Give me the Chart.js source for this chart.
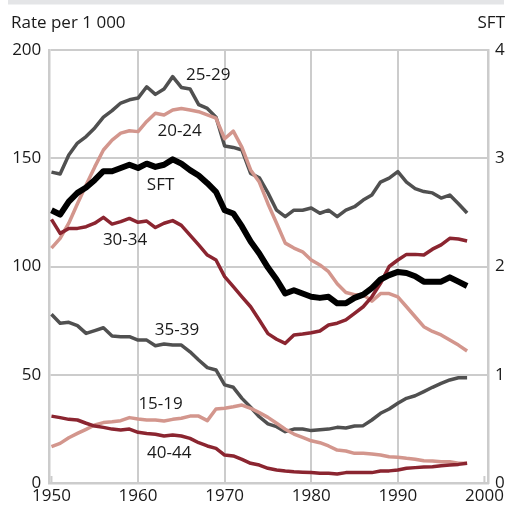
<!DOCTYPE html>
<html>
<head>
<meta charset="utf-8">
<script src="https://cdn.jsdelivr.net/npm/chart.js@4"></script>
<style>
  body { margin: 0; background: #fff; }
  canvas { display: block; }
</style>
</head>
<body>
<canvas id="chart" width="507" height="509"></canvas>
<script>
const years = [1950, 1951, 1952, 1953, 1954, 1955, 1956, 1957, 1958, 1959,
  1960, 1961, 1962, 1963, 1964, 1965, 1966, 1967, 1968, 1969,
  1970, 1971, 1972, 1973, 1974, 1975, 1976, 1977, 1978, 1979,
  1980, 1981, 1982, 1983, 1984, 1985, 1986, 1987, 1988, 1989,
  1990, 1991, 1992, 1993, 1994, 1995, 1996, 1997, 1998];

// births per 1 000 women, by age group
const age1519 = [16.8, 18.3, 20.9, 22.9, 24.8, 26.8, 27.9, 28.3, 28.8, 30.2,
  29.6, 29.1, 29.1, 28.6, 29.4, 29.9, 30.9, 30.9, 28.8, 34.2,
  34.5, 35.2, 36, 34.5, 32.5, 30.3, 27.6, 24.8, 22.6, 21.1,
  19.5, 18.6, 17.1, 15.2, 14.8, 13.7, 13.7, 13.4, 12.9, 12.1,
  11.9, 11.4, 11, 10.3, 10.2, 9.8, 9.8, 9.1, 9.1];
const age2024 = [108.5, 113, 120, 129, 137.6, 146, 153.8, 158.4, 161.6, 162.7,
  162.3, 167, 170.8, 170, 172.3, 173, 172.3, 171.5, 170, 168.5,
  159, 162.5, 155, 144.6, 139, 129, 120, 110.8, 108.5, 106.8,
  103, 100.7, 97.6, 92, 88, 87, 87, 84, 87.5, 87.5,
  86, 81.4, 76.8, 72.2, 70, 68.4, 66, 63.7, 61];
const age2529 = [143.6, 142.7, 151.5, 157, 160, 164, 169, 172, 175.5, 177,
  177.8, 183, 179.5, 182, 187.7, 182.7, 182, 174.8, 173, 169,
  155.7, 155, 153.8, 143, 141, 134, 126, 123, 126, 126,
  127, 124.6, 126, 123, 126, 127.6, 130.7, 133, 139, 140.8,
  143.8, 139, 136, 134.6, 134, 131.6, 133, 129, 124.7];
const age3034 = [121.8, 115.3, 117.6, 117.6, 118.4, 120, 122.7, 119.6, 120.7, 122.2,
  120.4, 121, 118, 120, 121.2, 119, 114.5, 110, 105.3, 103,
  95.3, 90.7, 86, 81.4, 75.3, 69, 66.4, 64.5, 68.4, 68.8,
  69.4, 70.2, 73, 73.8, 75.3, 78.4, 81.4, 86, 92.2, 100,
  103, 105.6, 105.6, 105.3, 108, 110, 113, 112.7, 111.8];
const age3539 = [77.9, 73.8, 74.2, 72.7, 69.1, 70.4, 71.7, 67.9, 67.6, 67.6,
  66, 66, 63.4, 64.2, 63.7, 63.7, 60.6, 56.8, 53.3, 52.2,
  45.3, 44.2, 39.1, 35, 30.6, 27.3, 26, 23.7, 24.9, 24.9,
  24.2, 24.6, 24.9, 25.7, 25.4, 26.3, 26.5, 29.1, 32.2, 34.2,
  36.8, 39.1, 40.3, 42.2, 44.2, 46, 47.6, 48.6, 48.6];
const age4044 = [30.9, 30.2, 29.4, 29.1, 27.6, 26.3, 25.7, 24.9, 24.5, 24.9,
  23.4, 22.9, 22.5, 21.7, 22.2, 21.7, 20.6, 18.6, 17.1, 16,
  12.9, 12.5, 10.9, 9.1, 8.3, 6.8, 6, 5.5, 5.2, 5,
  4.8, 4.5, 4.5, 4.2, 4.8, 4.8, 4.8, 4.8, 5.5, 5.6,
  6, 6.8, 7.1, 7.4, 7.5, 8, 8.3, 8.6, 9.1];
// total fertility rate (right axis)
const sft = [2.52, 2.48, 2.60, 2.68, 2.73, 2.80, 2.88, 2.88, 2.91, 2.94,
  2.91, 2.95, 2.92, 2.94, 2.99, 2.95, 2.89, 2.84, 2.77, 2.69,
  2.52, 2.49, 2.37, 2.23, 2.12, 1.99, 1.88, 1.75, 1.78, 1.75,
  1.72, 1.71, 1.72, 1.66, 1.66, 1.71, 1.74, 1.80, 1.88, 1.92,
  1.95, 1.94, 1.91, 1.86, 1.86, 1.86, 1.90, 1.86, 1.82];

const xTicks = [1950, 1960, 1970, 1980, 1990, 2000];
const leftTicks = [0, 50, 100, 150, 200];
const rightTicks = [0, 1, 2, 3, 4];

// inline series labels: [text, year, rate]
const seriesLabels = [
  ["25-29", 1968.1, 188.5],
  ["20-24", 1964.8, 162.4],
  ["SFT", 1962.6, 137.6],
  ["30-34", 1958.5, 112.2],
  ["35-39", 1964.5, 70.7],
  ["15-19", 1962.6, 36.5],
  ["40-44", 1963.6, 13.9]
];

const gray = "#505050", pink = "#d3968d", red = "#8b2530";
const FONT = "'Open Sans', sans-serif";
const toPts = (arr) => arr.map((v, i) => ({ x: years[i], y: v }));

const line = (label, arr, color, width, axis) => ({
  label: label,
  data: toPts(arr),
  borderColor: color,
  borderWidth: width,
  yAxisID: axis || "y",
  pointRadius: 0,
  tension: 0,
  borderJoinStyle: "round",
  borderCapStyle: "butt",
  fill: false,
});

const decor = {
  id: "decor",
  beforeDraw(chart) {
    const c = chart.ctx;
    c.save();
    c.fillStyle = "#e4e5e7";
    c.fillRect(8, 0, 496, 4.5);
    c.restore();
  },
  afterDatasetsDraw(chart) {
    const c = chart.ctx, x = chart.scales.x, y = chart.scales.y;
    const bottom = chart.chartArea.bottom;
    c.save();
    // short ticks at the ends of the time axis
    c.strokeStyle = "#cccccc";
    c.lineWidth = 2;
    [1950, 2000].forEach((yr) => {
      const px = x.getPixelForValue(yr);
      c.beginPath();
      c.moveTo(px, bottom);
      c.lineTo(px, bottom - 7);
      c.stroke();
    });
    c.fillStyle = "#1a1a1a";
    c.font = "17px " + FONT;
    c.textBaseline = "middle";
    c.textAlign = "left";
    c.fillText("Rate per 1 000", 11, 23);
    c.textAlign = "right";
    c.fillText("SFT", 505, 23);
    c.textAlign = "center";
    seriesLabels.forEach(([t, yr, v]) => {
      c.fillText(t, x.getPixelForValue(yr), y.getPixelForValue(v));
    });
    c.restore();
  },
};

new Chart(document.getElementById("chart"), {
  type: "line",
  data: {
    datasets: [
      line("SFT", sft, "#000000", 6, "y2"),
      line("30-34", age3034, red, 3.5),
      line("40-44", age4044, red, 3.5),
      line("20-24", age2024, pink, 3.5),
      line("15-19", age1519, pink, 3.5),
      line("25-29", age2529, gray, 3.5),
      line("35-39", age3539, gray, 3.5),
    ],
  },
  options: {
    responsive: false,
    animation: false,
    layout: { padding: { top: 50, left: 0, right: 0, bottom: 0 } },
    plugins: {
      legend: { display: false },
      tooltip: { enabled: false },
    },
    scales: {
      x: {
        type: "linear",
        min: 1949.75,
        max: 2000.4,
        afterBuildTicks: (s) => { s.ticks = xTicks.map((v) => ({ value: v })); },
        afterFit: (s) => { s.height = 26; },
        grid: {
          color: (ctx) => (ctx.tick && (ctx.tick.value === 1950 || ctx.tick.value === 2000) ? "rgba(0,0,0,0)" : "#cccccc"),
          lineWidth: 2,
          drawTicks: false,
        },
        border: { display: true, color: "#cccccc", width: 2.5 },
        ticks: {
          color: "#1a1a1a",
          font: { family: FONT, size: 17 },
          padding: 3,
          maxRotation: 0,
          autoSkip: false,
          callback: (v) => String(v),
        },
      },
      y: {
        position: "left",
        min: 0,
        max: 200,
        afterBuildTicks: (s) => { s.ticks = leftTicks.map((v) => ({ value: v })); },
        afterFit: (s) => { s.width = 49.3; },
        grid: { color: "#cccccc", lineWidth: 2, drawTicks: false },
        border: { display: true, color: "#cccccc", width: 2.5 },
        ticks: {
          color: "#1a1a1a",
          font: { family: FONT, size: 17 },
          padding: 8,
        },
      },
      y2: {
        position: "right",
        min: 0,
        max: 4,
        afterBuildTicks: (s) => { s.ticks = rightTicks.map((v) => ({ value: v })); },
        afterFit: (s) => { s.width = 17.7; },
        grid: { display: false, drawTicks: false },
        border: { display: true, color: "#cccccc", width: 2.5 },
        ticks: {
          color: "#1a1a1a",
          font: { family: FONT, size: 17 },
          padding: 7,
        },
      },
    },
  },
  plugins: [decor],
});
</script>
</body>
</html>
